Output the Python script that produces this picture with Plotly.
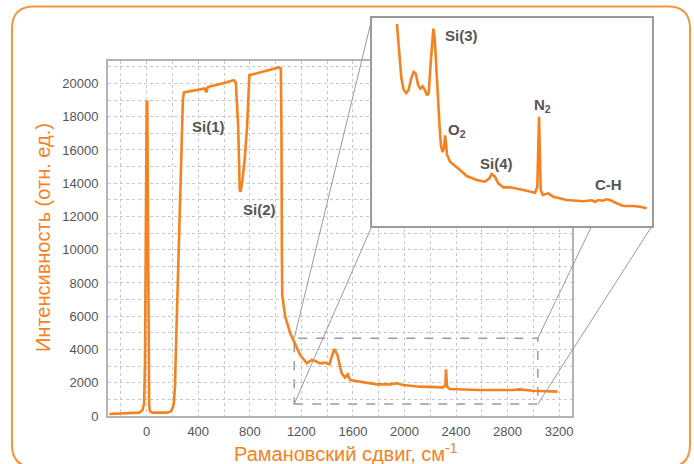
import plotly.graph_objects as go

# ---------------- data ----------------
main_shift = [-290, -150, -80, -59, -33, -20, -13, -8, -3, 0, 5, 9, 14, 19, 23, 30, 44, 100, 150, 186,
              205, 211, 220, 224, 237, 255, 263, 281, 289, 400, 451, 462, 475, 600, 675, 692,
              700, 710, 722, 728, 740, 760, 779, 790, 797, 900, 1023, 1041, 1046, 1049, 1052,
              1075, 1114, 1150, 1191, 1243, 1281, 1307, 1346, 1384, 1418, 1436, 1456, 1480,
              1513, 1539, 1560, 1578, 1655, 1784, 1887, 1939, 1990, 2119, 2300, 2318, 2322,
              2331, 2351, 2583, 2841, 2892, 2995, 3189]
main_int = [120, 150, 190, 200, 360, 700, 3186, 12000, 18900, 18900, 18900, 12000, 3000, 800, 360, 250, 200, 190, 200, 260,
            550, 760, 1800, 3170, 7170, 11180, 14000, 19000, 19460, 19620, 19700, 19460, 19780, 20030, 20200, 20050,
            19000, 17400, 13600, 13480, 13990, 15390, 17390, 20000, 20500, 20700, 20960, 20900, 17000, 10000, 7270,
            5970, 4970, 4370, 3667, 3168, 3366, 3306, 3168, 3206, 3106, 3566, 4028, 3667,
            2567, 2306, 2506, 2164, 2064, 1904, 1904, 1964, 1864, 1764, 1724, 1864, 2807,
            1764, 1623, 1563, 1563, 1603, 1523, 1463]

inset_shift = [1155, 1169, 1191, 1210, 1232, 1251, 1273, 1292, 1311, 1328, 1347, 1366, 1383, 1402, 1416,
               1429, 1443, 1454, 1465, 1478, 1492, 1506, 1517, 1531, 1541, 1550, 1558, 1566, 1585, 1591,
               1673, 1728, 1810, 1878, 1914, 1933, 1960, 1987, 2029, 2084, 2193, 2289, 2308, 2322, 2336,
               2352, 2398, 2439, 2549, 2686, 2755, 2782, 2809, 2845, 2878, 2905, 2960, 3014, 3096, 3151, 3206]
inset_int = [4162, 3810, 3370, 3199, 3150, 3199, 3370, 3458, 3429, 3272, 3213, 3248, 3199, 3116, 3150,
             3517, 3908, 4093, 3956, 3517, 2979, 2637, 2369, 2285, 2344, 2530, 2417, 2245, 2172, 2143,
             2021, 1933, 1874, 1850, 1899, 1962, 1923, 1826, 1767, 1767, 1728, 1688, 1776, 2803, 1728,
             1655, 1679, 1630, 1581, 1562, 1577, 1556, 1581, 1571, 1592, 1581, 1533, 1493, 1493, 1483, 1460]

x_ticks = [0, 400, 800, 1200, 1600, 2000, 2400, 2800, 3200]
y_ticks = [0, 2000, 4000, 6000, 8000, 10000, 12000, 14000, 16000, 18000, 20000]
x_tick_labels = [str(v) for v in x_ticks]
y_tick_labels = [str(v) for v in y_ticks]
x_range = [-300, 3300]
y_range = [0, 21350]
inset_x_range = [950, 3250]
inset_y_range = [1200, 4250]
zoom_box = [1145, 3035, 720, 4680]  # x0, x1, y0, y1 of the dashed region

x_title = "Рамановский сдвиг, см<sup>-1</sup>"
y_title = "Интенсивность (отн. ед.)"

# ---------------- layout geometry ----------------
W, H = 694, 464
MAIN = (108, 572, 61, 416)     # left, right, top, bottom in px
INSET = (372, 652, 18, 226)

ORANGE = "#F58220"
BORDER = "#F7943C"
GRAY_TXT = "#555555"
FONT = "Liberation Sans, Arial, sans-serif"


def pap(px, py):
    return px / W, (H - py) / H


def main_to_px(x, y):
    l, r, t, b = MAIN
    px = l + (x - x_range[0]) / (x_range[1] - x_range[0]) * (r - l)
    py = b - (y - y_range[0]) / (y_range[1] - y_range[0]) * (b - t)
    return px, py


fig = go.Figure()
fig.add_trace(go.Scatter(x=main_shift, y=main_int, mode="lines",
                         line=dict(color=ORANGE, width=2.6), xaxis="x", yaxis="y",
                         showlegend=False, hoverinfo="skip"))
fig.add_trace(go.Scatter(x=inset_shift, y=inset_int, mode="lines",
                         line=dict(color=ORANGE, width=2.6), xaxis="x2", yaxis="y2",
                         showlegend=False, hoverinfo="skip"))

grid = dict(gridcolor="#c8c8c8", griddash="dot", gridwidth=1)

fig.update_layout(
    width=W, height=H, autosize=False,
    margin=dict(l=0, r=0, t=0, b=0, pad=0, autoexpand=False),
    paper_bgcolor="white", plot_bgcolor="white",
    font=dict(family=FONT, color=GRAY_TXT),
    xaxis=dict(domain=[MAIN[0] / W, MAIN[1] / W], range=x_range, automargin=False,
               tickmode="array", tickvals=x_ticks, ticktext=x_tick_labels, ticks="",
               showgrid=True, **grid,
               minor=dict(dtick=200, tick0=0, showgrid=True, **grid),
               showline=True, linecolor="#b4b4b4", linewidth=2, mirror=True,
               zeroline=False, tickfont=dict(size=13, color=GRAY_TXT), ticklabelstandoff=2),
    yaxis=dict(domain=[(H - MAIN[3]) / H, (H - MAIN[2]) / H], range=y_range, automargin=False,
               tickmode="array", tickvals=y_ticks, ticktext=y_tick_labels, ticks="",
               showgrid=True, **grid,
               minor=dict(dtick=1000, tick0=0, showgrid=True, **grid),
               showline=True, linecolor="#b4b4b4", linewidth=2, mirror=True,
               zeroline=False, tickfont=dict(size=13, color=GRAY_TXT), ticklabelstandoff=5),
    xaxis2=dict(domain=[INSET[0] / W, INSET[1] / W], range=inset_x_range, anchor="y2",
                showgrid=False, zeroline=False, showticklabels=False, ticks="",
                showline=True, linecolor="#9a9a9a", linewidth=2, mirror=True),
    yaxis2=dict(domain=[(H - INSET[3]) / H, (H - INSET[2]) / H], range=inset_y_range, anchor="x2",
                showgrid=False, zeroline=False, showticklabels=False, ticks="",
                showline=True, linecolor="#9a9a9a", linewidth=2, mirror=True),
)

# dashed zoom box on the main axes
fig.add_shape(type="rect", xref="x", yref="y", x0=zoom_box[0], x1=zoom_box[1],
              y0=zoom_box[2], y1=zoom_box[3], layer="below",
              line=dict(color="#9a9a9a", width=1.5, dash="dash"))

# connector lines (paper)
tl = main_to_px(zoom_box[0], zoom_box[3])
bl = main_to_px(zoom_box[0], zoom_box[2])
tr = main_to_px(zoom_box[1], zoom_box[3])
br = main_to_px(zoom_box[1], zoom_box[2])
connectors = [
    (tl, (INSET[0], INSET[2])),
    (bl, (INSET[0], INSET[3])),
    (tr, (tr[0] + (tr[1] - INSET[3]) * 0.48, INSET[3])),
    (br, (INSET[1], INSET[3])),
]
for a, b in connectors:
    x0, y0 = pap(*a)
    x1, y1 = pap(*b)
    fig.add_shape(type="line", xref="paper", yref="paper", x0=x0, y0=y0, x1=x1, y1=y1,
                  line=dict(color="#9a9a9a", width=1), layer="above")

# rounded orange frame
L, T, R, B, rad = 12, 6.5, 690, 467, 22
def P(px, py):
    x, y = pap(px, py)
    return f"{x:.5f},{y:.5f}"
path = (f"M {P(L + rad, T)} L {P(R - rad, T)} Q {P(R, T)} {P(R, T + rad)} "
        f"L {P(R, B - rad)} Q {P(R, B)} {P(R - rad, B)} L {P(L + rad, B)} "
        f"Q {P(L, B)} {P(L, B - rad)} L {P(L, T + rad)} Q {P(L, T)} {P(L + rad, T)} Z")
fig.add_shape(type="path", xref="paper", yref="paper", path=path,
              line=dict(color=BORDER, width=2), layer="above")

# peak labels
labels = [
    ("Si(1)", 208, 127, "center"),
    ("Si(2)", 259, 209, "center"),
    ("Si(3)", 461, 36, "center"),
    ("O<sub>2</sub>", 446, 130, "left"),
    ("Si(4)", 496, 163, "center"),
    ("N<sub>2</sub>", 532, 105, "left"),
    ("C-H", 608.5, 184.5, "center"),
]
for txt, px, py, xa in labels:
    x, y = pap(px, py)
    fig.add_annotation(text=f"<b>{txt}</b>", x=x, y=y, xref="paper", yref="paper",
                       xanchor=xa, yanchor="middle", showarrow=False,
                       font=dict(size=15, color=GRAY_TXT, family=FONT))

# axis titles
x, y = pap(346, 452)
fig.add_annotation(text=x_title, x=x, y=y, xref="paper", yref="paper", showarrow=False,
                   xanchor="center", yanchor="middle",
                   font=dict(size=20, color=ORANGE, family=FONT))
x, y = pap(43, 238)
fig.add_annotation(text=y_title, x=x, y=y, xref="paper", yref="paper", showarrow=False,
                   xanchor="center", yanchor="middle", textangle=-90,
                   font=dict(size=20, color=ORANGE, family=FONT))

fig.write_html("out.html",
               config={"displayModeBar": False, "responsive": False},
               post_script="document.body.style.margin='0';document.body.style.overflow='hidden';")
